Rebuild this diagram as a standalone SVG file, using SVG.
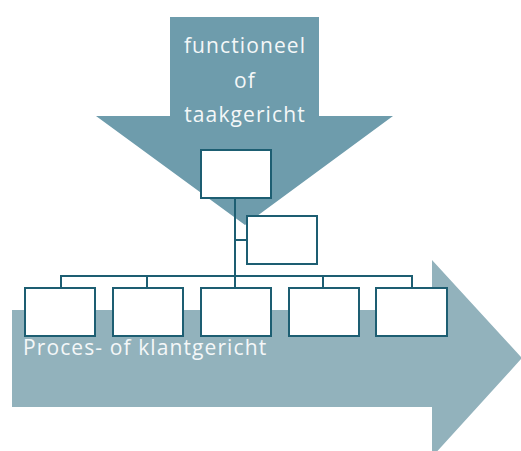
<svg xmlns="http://www.w3.org/2000/svg" width="521" height="451" viewBox="0 0 521 451">
<style>
.box{fill:#fff;stroke:#1d5e72;stroke-width:2}
.con{fill:none;stroke:#1d5e72;stroke-width:2}
.lbl{font-family:"Open Sans","Noto Sans",sans-serif;font-size:21px;letter-spacing:1.1px;fill:#f4f7f8}
</style>
<rect width="521" height="451" fill="#fff"/>
<g id="process-arrow">
<polygon points="12,310 432,310 432,260 522,358 432,457 432,407 12,407" fill="#92b2bc"/>
<text class="lbl" x="23" y="355">Proces- of klantgericht</text>
</g>
<g id="function-arrow">
<polygon points="170,17 319,17 319,116 393,116 245,225 96,116 170,116" fill="#6e9cac"/>
<text class="lbl" text-anchor="middle" x="245" y="53">functioneel</text>
<text class="lbl" text-anchor="middle" x="245" y="88">of</text>
<text class="lbl" text-anchor="middle" x="245" y="122">taakgericht</text>
</g>
<g id="connectors">
<path class="con" d="M235,198 V276 M235,240 H247 M61,288 V276 H412 V288 M147,276 V288 M235,276 V288 M323,276 V288"/>
</g>
<g id="top"><rect class="box" x="201" y="150" width="70" height="48"/></g>
<g id="staff"><rect class="box" x="247" y="216" width="70" height="48"/></g>
<g id="unit1"><rect class="box" x="25" y="288" width="70" height="48"/></g>
<g id="unit2"><rect class="box" x="113" y="288" width="70" height="48"/></g>
<g id="unit3"><rect class="box" x="201" y="288" width="70" height="48"/></g>
<g id="unit4"><rect class="box" x="289" y="288" width="70" height="48"/></g>
<g id="unit5"><rect class="box" x="376" y="288" width="71" height="48"/></g>
</svg>
